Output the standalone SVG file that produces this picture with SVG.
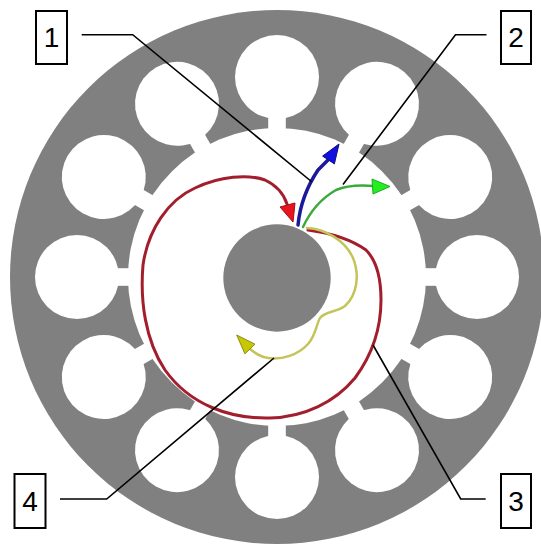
<svg xmlns="http://www.w3.org/2000/svg" xmlns:xlink="http://www.w3.org/1999/xlink" width="541" height="545" viewBox="0 0 541 545">
<style>
.gray{fill:#808080}
.white{fill:#ffffff}
.box{fill:#ffffff;stroke:#000000;stroke-width:2}
.lbl{font-family:"Liberation Sans",Arial,sans-serif;font-size:28px;fill:#000000;text-anchor:middle}
.lead{fill:none;stroke:#000000;stroke-width:1.6}
.curve{fill:none;stroke-linecap:round;stroke-linejoin:round}
</style>
<defs>
<circle id="hole" cx="0" cy="-200" r="42"/>
<rect id="neck" x="-8.8" y="-205" width="17.6" height="70"/>
</defs>
<rect width="541" height="545" fill="#ffffff"/>
<g id="rotor">
<circle class="gray" cx="277" cy="277" r="267"/>
<g class="white" transform="translate(277,277)">
<circle cx="0" cy="0" r="149"/>
<use xlink:href="#hole" transform="rotate(0)"/>
<use xlink:href="#hole" transform="rotate(30)"/>
<use xlink:href="#hole" transform="rotate(60)"/>
<use xlink:href="#hole" transform="rotate(90)"/>
<use xlink:href="#hole" transform="rotate(120)"/>
<use xlink:href="#hole" transform="rotate(150)"/>
<use xlink:href="#hole" transform="rotate(180)"/>
<use xlink:href="#hole" transform="rotate(210)"/>
<use xlink:href="#hole" transform="rotate(240)"/>
<use xlink:href="#hole" transform="rotate(270)"/>
<use xlink:href="#hole" transform="rotate(300)"/>
<use xlink:href="#hole" transform="rotate(330)"/>
<use xlink:href="#neck" transform="rotate(0)"/>
<use xlink:href="#neck" transform="rotate(30)"/>
<use xlink:href="#neck" transform="rotate(60)"/>
<use xlink:href="#neck" transform="rotate(90)"/>
<use xlink:href="#neck" transform="rotate(120)"/>
<use xlink:href="#neck" transform="rotate(150)"/>
<use xlink:href="#neck" transform="rotate(180)"/>
<use xlink:href="#neck" transform="rotate(210)"/>
<use xlink:href="#neck" transform="rotate(240)"/>
<use xlink:href="#neck" transform="rotate(270)"/>
<use xlink:href="#neck" transform="rotate(300)"/>
<use xlink:href="#neck" transform="rotate(330)"/>
</g>
<circle class="gray" cx="277" cy="278" r="53.7"/>
</g>
<g id="arrows">
<g id="arrow-red">
<path class="curve" stroke="#a31e2c" stroke-width="3" d="M308,230 C330,233 352,240 366,250 C378,262 381,280 381,300 C381,330 372,355 355,378 C335,402 305,417 270,418 C230,419 190,405 165,370 C145,340 140,300 143,265 C148,230 168,200 195,188 C220,176 248,174 265,180 C278,186 284,195 287,204"/>
<polygon points="280,207 295,203 293,222" fill="#e8141e" stroke="#a01010" stroke-width="1"/>
</g>
<g id="arrow-yellow">
<path class="curve" stroke="#c4c45a" stroke-width="2.5" d="M307,228 C325,229 345,240 353,258 C360,275 357,295 345,306 C335,313 325,311 320,318 C316,325 316,335 308,344 C298,355 282,360 268,358 C260,357 255,353 250,349"/>
<polygon points="255,344.2 244.9,353.8 236.7,335" fill="#c8c800" stroke="#8a8a20" stroke-width="1"/>
</g>
<g id="arrow-blue">
<path class="curve" stroke="#1a1a9a" stroke-width="3.5" d="M298,225 C300,205 308,185 318,170 L328,160"/>
<polygon points="322.6,156.1 334.4,163.9 339,144" fill="#1010e0" stroke="#10107a" stroke-width="1"/>
</g>
<g id="arrow-green">
<path class="curve" stroke="#3aaa3a" stroke-width="2.5" d="M303,227 C310,212 322,198 336,190 C348,185 360,185 373,186"/>
<polygon points="372,179 373,194 390,186.5" fill="#22ee22" stroke="#22aa22" stroke-width="1"/>
</g>
</g>
<g id="leaders">
<polyline class="lead" points="81.7,34.7 132.7,34.7 312,182"/>
<polyline class="lead" points="486.5,34.7 455.5,34.7 343,184.6"/>
<polyline class="lead" points="485.7,499 460.7,499 373,345"/>
<polyline class="lead" points="60,499 106.7,499 274,358"/>
</g>
<g id="label-1">
<rect class="box" x="36" y="11" width="31" height="53"/>
<text class="lbl" x="51.5" y="47.3">1</text>
</g>
<g id="label-2">
<rect class="box" x="501" y="11" width="30" height="53"/>
<text class="lbl" x="516" y="47.3">2</text>
</g>
<g id="label-3">
<rect class="box" x="501" y="474" width="30" height="54"/>
<text class="lbl" x="516" y="510.7">3</text>
</g>
<g id="label-4">
<rect class="box" x="14.5" y="474" width="31" height="54"/>
<text class="lbl" x="30" y="510.7">4</text>
</g>
</svg>
